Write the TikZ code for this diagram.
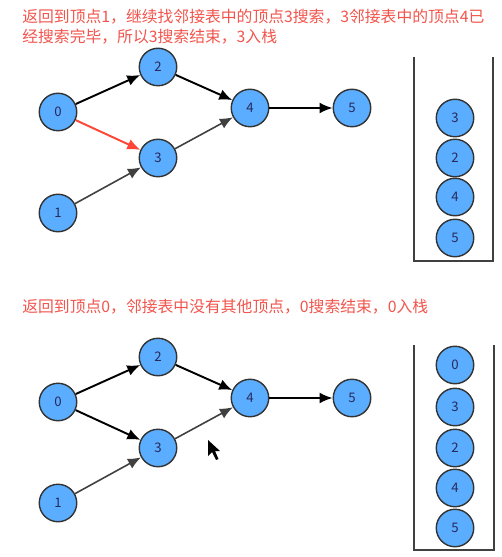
\documentclass[tikz,border=0pt]{standalone}
\usepackage{fontspec}
\setmainfont{Noto Sans CJK SC}
\setsansfont{Noto Sans CJK SC}
\usetikzlibrary{arrows.meta}
\definecolor{vblue}{HTML}{5AADFF}
\definecolor{vline}{HTML}{333333}
\definecolor{hint}{HTML}{F2554D}
\definecolor{hot}{HTML}{FF4535}

\begin{document}
\begin{tikzpicture}[x=0.02cm,y=-0.02cm,font=\sffamily,>={Latex[length=2.6mm,width=2.2mm]},
  vert/.style={circle,draw=vline,line width=0.8pt,fill=vblue,minimum size=0.75cm,inner sep=0pt,text=vline!80!blue,font=\sffamily\fontsize{7.5}{8}\selectfont},
  edge/.style={->,line width=1.1pt,black},
  soft/.style={->,line width=0.9pt,black!75},
  note/.style={anchor=west,text=hint,font=\sffamily\fontsize{9}{11.5}\selectfont,align=left,inner sep=0pt},
  wall/.style={line width=1.3pt,black!75}]
\useasboundingbox[fill=white] (0,0) rectangle (502,557);
% upper step
\node[note] (n1) at (22,27) {返回到顶点1，继续找邻接表中的顶点3搜索，3邻接表中的顶点4已\\经搜索完毕，所以3搜索结束，3入栈};
\node[vert] (t0) at (58,112) {0};
\node[vert] (t2) at (158,67) {2};
\node[vert] (t3) at (158,158) {3};
\node[vert] (t1) at (58,213) {1};
\node[vert] (t4) at (250,108) {4};
\node[vert] (t5) at (352,108) {5};
\draw[edge] (t0)--(t2);
\draw[edge] (t2)--(t4);
\draw[edge] (t4)--(t5);
\draw[->,line width=1.1pt,hot] (t0)--(t3);
\draw[soft] (t3)--(t4);
\draw[soft] (t1)--(t3);
\coordinate (ua) at (414,57);
\coordinate (ub) at (414,261);
\coordinate (uc) at (493,261);
\coordinate (ud) at (493,57);
\draw[wall] (ua)--(ub)--(uc)--(ud);
\node[vert] (us3) at (455,118) {3};
\node[vert] (us2) at (455,158) {2};
\node[vert] (us4) at (455,197) {4};
\node[vert] (us5) at (455,238) {5};
% lower step
\node[note] (n2) at (22,307) {返回到顶点0，邻接表中没有其他顶点，0搜索结束，0入栈};
\node[vert] (b0) at (58,402) {0};
\node[vert] (b2) at (158,357) {2};
\node[vert] (b3) at (158,448) {3};
\node[vert] (b1) at (58,503) {1};
\node[vert] (b4) at (250,398) {4};
\node[vert] (b5) at (352,398) {5};
\draw[edge] (b0)--(b2);
\draw[edge] (b2)--(b4);
\draw[edge] (b4)--(b5);
\draw[edge] (b0)--(b3);
\draw[soft] (b3)--(b4);
\draw[soft] (b1)--(b3);
\coordinate (la) at (414,345);
\coordinate (lb) at (414,550);
\coordinate (lc) at (494,550);
\coordinate (ld) at (494,345);
\draw[wall] (la)--(lb)--(lc)--(ld);
\node[vert] (ls0) at (455,365) {0};
\node[vert] (ls3) at (455,407) {3};
\node[vert] (ls2) at (455,448) {2};
\node[vert] (ls4) at (455,488) {4};
\node[vert] (ls5) at (455,528) {5};
% mouse pointer
\fill[black] (208,440)--(208,456)--(212,452)--(216,460)--(218.5,459)--(215,451)--(220,451)--cycle;
\end{tikzpicture}
\end{document}
